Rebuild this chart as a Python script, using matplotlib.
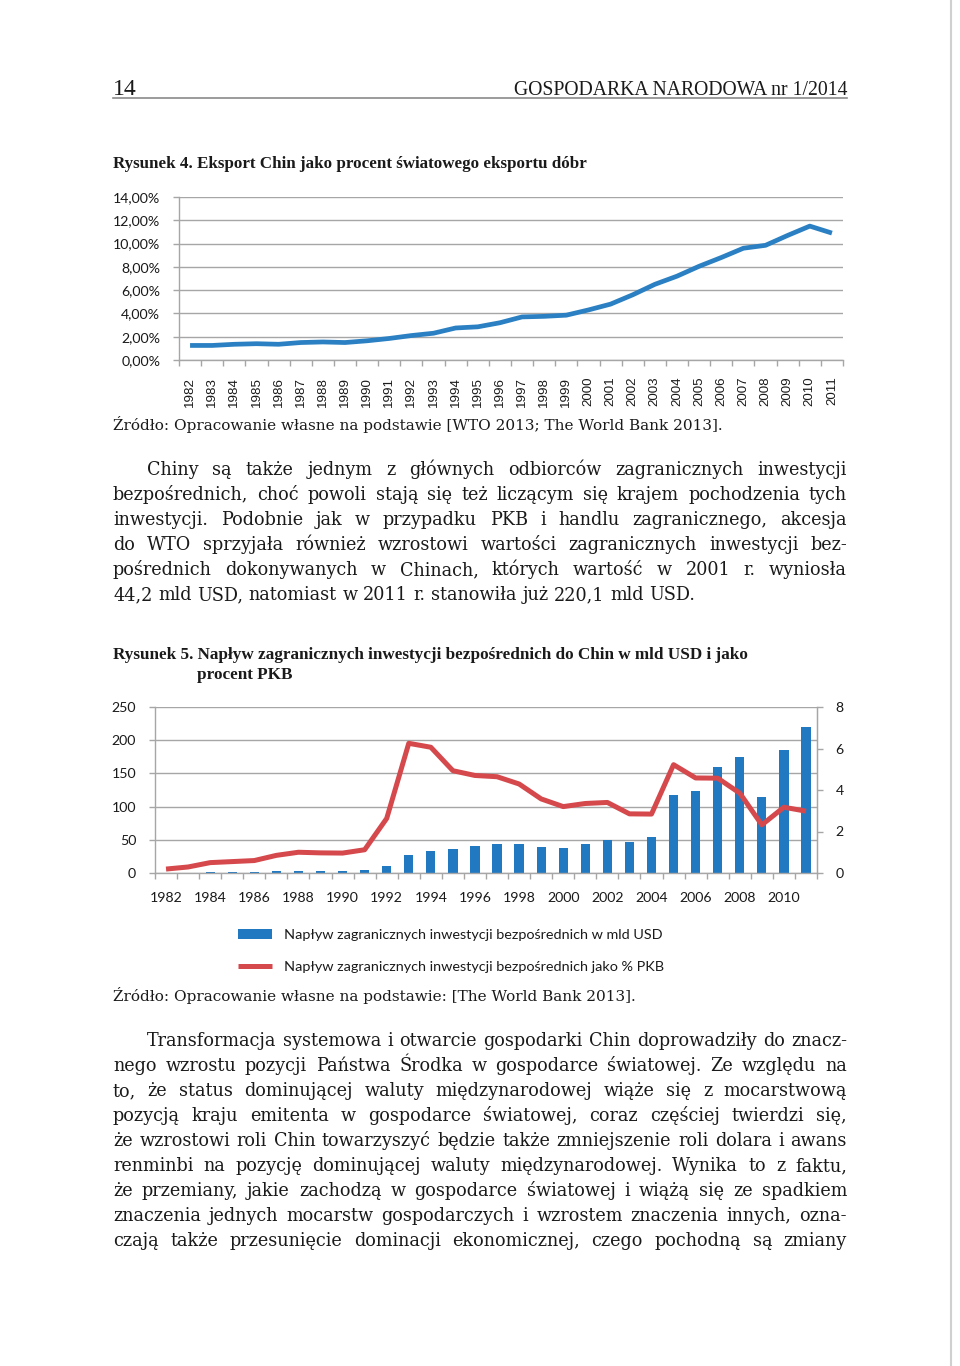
import matplotlib
matplotlib.use("Agg")
import matplotlib.pyplot as plt
from matplotlib.lines import Line2D

# ---------------- data ----------------
years = list(range(1982, 2012))
export_share = [1.25, 1.25, 1.35, 1.4, 1.35, 1.5, 1.55, 1.5, 1.65, 1.85,
                2.1, 2.3, 2.75, 2.85, 3.2, 3.7, 3.75, 3.85, 4.3, 4.8,
                5.6, 6.5, 7.2, 8.05, 8.8, 9.6, 9.85, 10.7, 11.5, 10.9]
fdi_usd = [0.4, 0.6, 1.3, 1.7, 1.9, 2.3, 3.2, 3.4, 3.5, 4.4,
           11.2, 27.5, 33.8, 35.8, 40.2, 44.2, 43.8, 38.8, 38.4, 44.2,
           49.3, 47.1, 54.9, 117.2, 124.1, 160.1, 175.1, 114.2, 185.1, 220.1]
fdi_gdp = [0.19, 0.29, 0.5, 0.55, 0.6, 0.85, 1.0, 0.97, 0.96, 1.12,
           2.63, 6.25, 6.06, 4.93, 4.7, 4.64, 4.29, 3.57, 3.2, 3.35,
           3.4, 2.85, 2.84, 5.22, 4.58, 4.57, 3.85, 2.32, 3.17, 2.98]
y1_ticks = [0, 2, 4, 6, 8, 10, 12, 14]
y1_labels = ["0,00%", "2,00%", "4,00%", "6,00%", "8,00%", "10,00%", "12,00%", "14,00%"]
y2_left_ticks = [0, 50, 100, 150, 200, 250]
y2_right_ticks = [0, 2, 4, 6, 8]
legend_labels = ["Napływ zagranicznych inwestycji bezpośrednich w mld USD",
                 "Napływ zagranicznych inwestycji bezpośrednich jako % PKB"]

header_left = "14"
header_right = "GOSPODARKA NARODOWA nr 1/2014"
title4 = "Rysunek 4. Eksport Chin jako procent światowego eksportu dóbr"
title5a = "Rysunek 5. Napływ zagranicznych inwestycji bezpośrednich do Chin w mld USD i jako"
title5b = "procent PKB"
source4 = "Źródło: Opracowanie własne na podstawie [WTO 2013; The World Bank 2013]."
source5 = "Źródło: Opracowanie własne na podstawie: [The World Bank 2013]."
para1 = [
    "Chiny są także jednym z głównych odbiorców zagranicznych inwestycji",
    "bezpośrednich, choć powoli stają się też liczącym się krajem pochodzenia tych",
    "inwestycji. Podobnie jak w przypadku PKB i handlu zagranicznego, akcesja",
    "do WTO sprzyjała również wzrostowi wartości zagranicznych inwestycji bez-",
    "pośrednich dokonywanych w Chinach, których wartość w 2001 r. wyniosła",
    "44,2 mld USD, natomiast w 2011 r. stanowiła już 220,1 mld USD.",
]
para2 = [
    "Transformacja systemowa i otwarcie gospodarki Chin doprowadziły do znacz-",
    "nego wzrostu pozycji Państwa Środka w gospodarce światowej. Ze względu na",
    "to, że status dominującej waluty międzynarodowej wiąże się z mocarstwową",
    "pozycją kraju emitenta w gospodarce światowej, coraz częściej twierdzi się,",
    "że wzrostowi roli Chin towarzyszyć będzie także zmniejszenie roli dolara i awans",
    "renminbi na pozycję dominującej waluty międzynarodowej. Wynika to z faktu,",
    "że przemiany, jakie zachodzą w gospodarce światowej i wiążą się ze spadkiem",
    "znaczenia jednych mocarstw gospodarczych i wzrostem znaczenia innych, ozna-",
    "czają także przesunięcie dominacji ekonomicznej, czego pochodną są zmiany",
]

# ---------------- figure ----------------
W, H = 960, 1366
fig = plt.figure(figsize=(W / 100, H / 100), dpi=100)
fig.patch.set_facecolor("white")
renderer = fig.canvas.get_renderer()

def fx(x):
    return x / W

def fy(y):
    return 1 - y / H

def measure(s, fs, family, weight="normal"):
    t = fig.text(0, 0, s, fontsize=fs, family=family, weight=weight)
    w = t.get_window_extent(renderer).width
    t.remove()
    return w

def fit_size(s, target, family, weight="normal"):
    return 10 * target / measure(s, 10, family, weight)

SERIF = "DejaVu Serif"
TSERIF = "Liberation Serif"
GRID = "#a6a6a6"
TXT = "#1a1a1a"

# page edge
fig.add_artist(Line2D([fx(951), fx(951)], [0, 1], color="#d0d0d0", lw=1.5))

# header
fig.text(fx(113), fy(95), header_left, fontsize=fit_size(header_left, 24, TSERIF),
         family=TSERIF, color=TXT, va="baseline")
fig.text(fx(847), fy(95), header_right, fontsize=fit_size(header_right, 336, TSERIF),
         family=TSERIF, color=TXT, va="baseline", ha="right")
fig.add_artist(Line2D([fx(113), fx(847)], [fy(98), fy(98)], color="#8a8a8a", lw=1.2))

# titles
fig.text(fx(113), fy(168), title4, fontsize=fit_size(title4, 474, TSERIF, "bold"),
         family=TSERIF, weight="bold", color=TXT, va="baseline")
fs5 = fit_size(title5a, 636, TSERIF, "bold")
fig.text(fx(113), fy(659), title5a, fontsize=fs5, family=TSERIF, weight="bold",
         color=TXT, va="baseline")
fig.text(fx(197), fy(679), title5b, fontsize=fs5, family=TSERIF, weight="bold",
         color=TXT, va="baseline")

# sources
fig.text(fx(113), fy(430), source4, fontsize=fit_size(source4, 609, SERIF),
         family=SERIF, color=TXT, va="baseline")
fig.text(fx(113), fy(1001), source5, fontsize=fit_size(source5, 523, SERIF),
         family=SERIF, color=TXT, va="baseline")

# justified paragraphs
def body_size(lines, x_left, x_right, indent, last_free):
    ratios = []
    for i, line in enumerate(lines):
        if last_free and i == len(lines) - 1:
            continue
        avail = x_right - x_left - (indent if i == 0 else 0)
        ratios.append(avail / measure(line, 10, SERIF))
    return 10 * min(ratios)

def draw_par(lines, x_left, x_right, y0, step, indent, last_free, fs):
    space = measure("a a", fs, SERIF) - measure("aa", fs, SERIF)
    for i, line in enumerate(lines):
        words = line.split()
        xs = x_left + (indent if i == 0 else 0)
        widths = [measure(w, fs, SERIF) for w in words]
        if last_free and i == len(lines) - 1:
            gap = space
        else:
            gap = (x_right - xs - sum(widths)) / (len(words) - 1)
        x = xs
        yb = y0 + i * step
        for w, wd in zip(words, widths):
            fig.text(fx(x), fy(yb), w, fontsize=fs, family=SERIF, color=TXT,
                     va="baseline")
            x += wd + gap

fs_body = min(body_size(para1, 113, 847, 34, True),
              body_size(para2, 113, 847, 34, False), 13.2)
draw_par(para1, 113, 847, 475, 25, 34, True, fs_body)
draw_par(para2, 113, 847, 1046, 25, 34, False, fs_body)

# ---------------- chart 1 ----------------
x_idx = list(range(len(years)))
ax1 = fig.add_axes([fx(179), fy(360), (843 - 179) / W, (360 - 197) / H])
ax1.plot(x_idx, export_share, color="#2a80c2", lw=3.4, solid_capstyle="butt",
         solid_joinstyle="round", zorder=3)
ax1.set_xlim(-0.5, len(years) - 0.5)
ax1.set_ylim(0, 14)
ax1.set_yticks(y1_ticks)
ax1.set_yticklabels(y1_labels, family="Lato", fontsize=10.2, color=TXT)
ax1.set_xticks(x_idx)
ax1.set_xticklabels([str(y) for y in years], rotation=90, family="Liberation Sans",
                    fontsize=9.6, color=TXT)
ax1.set_xticks([i - 0.5 for i in range(len(years) + 1)], minor=True)
ax1.tick_params(axis="x", which="major", length=0, pad=12)
ax1.tick_params(axis="x", which="minor", length=4.5, color=GRID, width=1, direction="out")
ax1.tick_params(axis="y", length=4.5, color=GRID, width=1, direction="out", pad=9)
ax1.yaxis.grid(True, color=GRID, lw=1)
ax1.set_axisbelow(True)
for s in ["top", "right"]:
    ax1.spines[s].set_visible(False)
for s in ["left", "bottom"]:
    ax1.spines[s].set_color(GRID)
    ax1.spines[s].set_linewidth(1)
ax1.patch.set_alpha(0)

# ---------------- chart 2 ----------------
ax2 = fig.add_axes([fx(155), fy(873), (817 - 155) / W, (873 - 707) / H])
bars = ax2.bar(x_idx, fdi_usd, width=0.42, color="#2179c1", zorder=2)
ax2.set_xlim(-0.5, len(years) - 0.5)
ax2.set_ylim(0, 250)
ax2.set_yticks(y2_left_ticks)
ax2.set_yticklabels([str(v) for v in y2_left_ticks], family="Lato", fontsize=10.2, color=TXT)
ax2.set_xticks(x_idx[::2])
ax2.set_xticklabels([str(y) for y in years[::2]], family="Lato", fontsize=10.2, color=TXT)
ax2.set_xticks([i - 0.5 for i in range(len(years) + 1)], minor=True)
ax2.tick_params(axis="x", which="major", length=0, pad=14)
ax2.tick_params(axis="x", which="minor", length=4.5, color=GRID, width=1, direction="out")
ax2.tick_params(axis="y", length=4.5, color=GRID, width=1, direction="out", pad=9)
ax2.yaxis.grid(True, color=GRID, lw=1)
ax2.set_axisbelow(True)
ax2.spines["top"].set_visible(False)
for s in ["left", "bottom", "right"]:
    ax2.spines[s].set_color(GRID)
    ax2.spines[s].set_linewidth(1)

ax3 = ax2.twinx()
line, = ax3.plot(x_idx, fdi_gdp, color="#d5484c", lw=3.6, solid_joinstyle="round",
                 solid_capstyle="butt", zorder=4)
ax3.set_ylim(0, 8)
ax3.set_yticks(y2_right_ticks)
ax3.set_yticklabels([str(v) for v in y2_right_ticks], family="Lato", fontsize=10.2, color=TXT)
ax3.tick_params(axis="y", length=4.5, color=GRID, width=1, direction="out", pad=9)
ax3.spines["top"].set_visible(False)
ax3.spines["left"].set_visible(False)
ax3.spines["bottom"].set_visible(False)
ax3.spines["right"].set_color(GRID)

leg = fig.legend([bars, line], legend_labels, loc="center left",
                 bbox_to_anchor=(fx(238), fy(951)), frameon=False,
                 prop={"family": "Lato", "size": 10.4}, handlelength=2.36,
                 handletextpad=0.83, labelspacing=1.4, borderpad=0, borderaxespad=0)
for t in leg.get_texts():
    t.set_color(TXT)

fig.savefig("out.png", dpi=100, facecolor="white")
